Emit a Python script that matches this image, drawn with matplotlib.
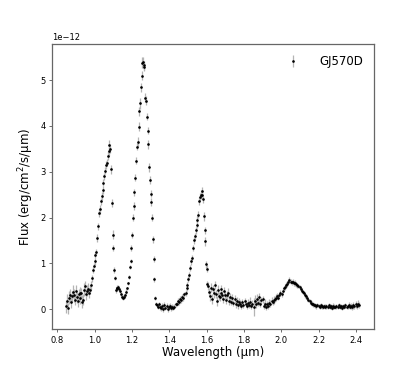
import matplotlib
matplotlib.use("Agg")
import matplotlib.pyplot as plt
import numpy as np

# wavelength (micron), flux (1e-12 erg/cm2/s/um), error (same units)
wave = [
    0.850, 0.855, 0.860, 0.865, 0.870, 0.875, 0.880, 0.885, 0.890, 0.895,
    0.900, 0.905, 0.910, 0.915, 0.920, 0.925, 0.930, 0.935, 0.940, 0.945,
    0.950, 0.955, 0.960, 0.965, 0.970, 0.975, 0.980, 0.985,
    0.990, 0.995, 1.000, 1.005, 1.010, 1.014, 1.020, 1.025, 1.031, 1.035,
    1.039, 1.043, 1.047, 1.052, 1.058, 1.062, 1.065, 1.070, 1.076, 1.080, 1.083,
    1.088, 1.092, 1.097, 1.100, 1.104, 1.108,
    1.113, 1.118, 1.123, 1.128, 1.133, 1.138, 1.143, 1.148, 1.153, 1.158, 1.163, 1.168,
    1.174, 1.179, 1.184, 1.189, 1.193, 1.198, 1.202, 1.206, 1.210, 1.214,
    1.218, 1.222, 1.226, 1.231, 1.236, 1.240, 1.245, 1.249, 1.253, 1.257,
    1.261, 1.264, 1.267,
    1.272, 1.277, 1.281, 1.285, 1.289, 1.293, 1.297, 1.301, 1.305, 1.309,
    1.313, 1.317, 1.321, 1.325, 1.329, 1.334, 1.339,
    1.344, 1.350, 1.356, 1.362, 1.368, 1.374, 1.380, 1.386, 1.392, 1.398,
    1.404, 1.410, 1.416, 1.422,
    1.428, 1.434, 1.440, 1.446, 1.452, 1.458, 1.464, 1.470, 1.476, 1.482,
    1.488, 1.493, 1.498, 1.503, 1.508, 1.513, 1.518, 1.523, 1.528, 1.533,
    1.538, 1.542, 1.547, 1.551, 1.556, 1.560, 1.565, 1.569, 1.574,
    1.578, 1.582, 1.586, 1.590, 1.593, 1.597, 1.601, 1.605,
    1.610, 1.615, 1.620, 1.625, 1.630, 1.635, 1.640, 1.645, 1.650, 1.655,
    1.660, 1.665, 1.670, 1.675, 1.680, 1.685, 1.690, 1.695, 1.700, 1.705,
    1.710, 1.715, 1.720,
    1.726, 1.732, 1.738, 1.744, 1.750, 1.756, 1.762, 1.768, 1.774, 1.780,
    1.786, 1.792, 1.798, 1.804, 1.810, 1.816, 1.822, 1.828, 1.834, 1.840,
    1.846, 1.852, 1.858, 1.864, 1.870, 1.876, 1.882, 1.888, 1.894, 1.900,
    1.906, 1.912, 1.918, 1.924, 1.930, 1.936, 1.942, 1.948, 1.954, 1.960,
    1.966, 1.972, 1.978,
    1.984, 1.990, 1.996, 2.002, 2.008, 2.014, 2.020, 2.026, 2.032, 2.038,
    2.044, 2.050, 2.056, 2.062, 2.068, 2.074, 2.080, 2.086, 2.092, 2.098,
    2.104, 2.110, 2.116, 2.122, 2.128, 2.134, 2.140, 2.146, 2.152, 2.158,
    2.164, 2.170, 2.176,
    2.182, 2.188, 2.194, 2.200, 2.206, 2.212, 2.218, 2.224, 2.230, 2.236,
    2.242, 2.248, 2.254, 2.260, 2.266, 2.272, 2.278, 2.284, 2.290, 2.296,
    2.302, 2.308, 2.314, 2.320, 2.326, 2.332, 2.338, 2.344, 2.350, 2.356,
    2.362, 2.368, 2.374, 2.380, 2.386, 2.392, 2.398, 2.404, 2.410, 2.416,
]

flux = [
    0.06, 0.18, 0.02, 0.25, 0.30, 0.15, 0.28, 0.38, 0.30, 0.20,
    0.40, 0.26, 0.18, 0.32, 0.36, 0.24, 0.34, 0.16, 0.20, 0.42,
    0.50, 0.32, 0.40, 0.44, 0.35, 0.42, 0.52, 0.67,
    0.85, 0.95, 1.04, 1.18, 1.25, 1.55, 1.81, 2.10, 2.18, 2.35,
    2.47, 2.60, 2.76, 2.90, 3.02, 3.15, 3.20, 3.35, 3.45, 3.58, 3.50,
    3.05, 2.32, 1.62, 1.33, 0.85, 0.68,
    0.42, 0.47, 0.45, 0.48, 0.44, 0.40, 0.32, 0.27, 0.25, 0.27, 0.30, 0.38,
    0.45, 0.56, 0.70, 0.92, 1.05, 1.33, 1.62, 2.00, 2.25, 2.55,
    2.87, 3.24, 3.55, 3.65, 3.98, 4.32, 4.50, 4.85, 5.10, 5.38,
    5.40, 5.33, 5.30,
    4.62, 4.55, 4.20, 3.90, 3.60, 3.10, 2.82, 2.52, 2.34, 2.00,
    1.52, 1.09, 0.65, 0.24, 0.12, 0.08, 0.05,
    0.10, 0.04, 0.02, 0.07, 0.00, 0.08, 0.03, 0.06, 0.00, 0.05,
    0.07, 0.02, 0.04, 0.03,
    0.05, 0.10, 0.12, 0.18, 0.15, 0.22, 0.20, 0.27, 0.25, 0.32,
    0.35, 0.45, 0.52, 0.65, 0.75, 0.90, 1.04, 1.12, 1.33, 1.50,
    1.59, 1.72, 1.84, 1.95, 2.06, 2.36, 2.45, 2.50, 2.57,
    2.50, 2.40, 2.03, 1.72, 1.48, 0.98, 0.88, 0.55,
    0.50, 0.38, 0.28, 0.47, 0.22, 0.44, 0.36, 0.52, 0.33, 0.18,
    0.42, 0.28, 0.26, 0.44, 0.35, 0.30, 0.22, 0.40, 0.30, 0.20,
    0.30, 0.36, 0.18,
    0.26, 0.16, 0.24, 0.13, 0.22, 0.10, 0.18, 0.08, 0.16, 0.12,
    0.07, 0.15, 0.09, 0.17, 0.12, 0.07, 0.14, 0.09, 0.16, 0.06,
    0.12, 0.04, 0.18, 0.10, 0.23, 0.14, 0.26, 0.12, 0.19, 0.21,
    0.07, 0.12, 0.04, 0.10, 0.07, 0.14, 0.12, 0.18, 0.15, 0.20,
    0.22, 0.25, 0.28,
    0.25, 0.30, 0.35, 0.32, 0.40, 0.45, 0.48, 0.52, 0.55, 0.60,
    0.63, 0.60, 0.58, 0.60, 0.56, 0.57, 0.54, 0.52, 0.50, 0.48,
    0.44, 0.40, 0.37, 0.35, 0.30, 0.28, 0.24, 0.20, 0.17, 0.14,
    0.12, 0.10, 0.09,
    0.08, 0.06, 0.09, 0.07, 0.05, 0.08, 0.06, 0.04, 0.07, 0.05,
    0.06, 0.04, 0.08, 0.05, 0.06, 0.03, 0.07, 0.05, 0.04, 0.06,
    0.05, 0.08, 0.04, 0.06, 0.03, 0.07, 0.05, 0.08, 0.04, 0.06,
    0.09, 0.05, 0.07, 0.04, 0.08, 0.06, 0.10, 0.07, 0.12, 0.09,
]

err = [
    0.14, 0.14, 0.12, 0.14, 0.14, 0.12, 0.12, 0.14, 0.14, 0.12,
    0.12, 0.12, 0.14, 0.12, 0.12, 0.12, 0.12, 0.14, 0.12, 0.14,
    0.12, 0.12, 0.12, 0.12, 0.10, 0.10, 0.10, 0.08,
    0.06, 0.06, 0.07, 0.07, 0.07, 0.08, 0.08, 0.08, 0.10, 0.08,
    0.08, 0.08, 0.08, 0.08, 0.08, 0.08, 0.08, 0.10, 0.10, 0.12, 0.10,
    0.10, 0.08, 0.10, 0.07, 0.06, 0.05,
    0.06, 0.05, 0.05, 0.05, 0.05, 0.05, 0.05, 0.05, 0.05, 0.05, 0.05, 0.05,
    0.04, 0.04, 0.05, 0.05, 0.05, 0.06, 0.07, 0.08, 0.08, 0.08,
    0.08, 0.08, 0.08, 0.10, 0.10, 0.10, 0.12, 0.10, 0.10, 0.12,
    0.10, 0.10, 0.10,
    0.10, 0.10, 0.08, 0.08, 0.10, 0.10, 0.08, 0.08, 0.08, 0.08,
    0.07, 0.06, 0.05, 0.04, 0.04, 0.04, 0.04,
    0.06, 0.07, 0.06, 0.07, 0.07, 0.07, 0.06, 0.07, 0.06, 0.06,
    0.06, 0.06, 0.06, 0.06,
    0.05, 0.06, 0.06, 0.06, 0.07, 0.06, 0.07, 0.06, 0.07, 0.06,
    0.06, 0.06, 0.06, 0.07, 0.07, 0.07, 0.07, 0.07, 0.07, 0.08,
    0.08, 0.08, 0.08, 0.08, 0.08, 0.09, 0.09, 0.10, 0.10,
    0.08, 0.08, 0.10, 0.08, 0.10, 0.08, 0.08, 0.06,
    0.09, 0.09, 0.11, 0.09, 0.11, 0.09, 0.11, 0.09, 0.09, 0.11,
    0.11, 0.09, 0.09, 0.09, 0.09, 0.09, 0.09, 0.09, 0.09, 0.09,
    0.09, 0.09, 0.09,
    0.08, 0.07, 0.08, 0.07, 0.08, 0.07, 0.08, 0.07, 0.08, 0.07,
    0.07, 0.08, 0.07, 0.08, 0.07, 0.07, 0.08, 0.07, 0.10, 0.07,
    0.08, 0.20, 0.12, 0.08, 0.10, 0.08, 0.10, 0.07, 0.08, 0.08,
    0.08, 0.10, 0.07, 0.08, 0.07, 0.08, 0.07, 0.08, 0.07, 0.08,
    0.07, 0.07, 0.07,
    0.06, 0.06, 0.06, 0.06, 0.06, 0.06, 0.06, 0.06, 0.06, 0.06,
    0.06, 0.06, 0.06, 0.06, 0.06, 0.06, 0.05, 0.05, 0.05, 0.05,
    0.05, 0.05, 0.05, 0.05, 0.05, 0.05, 0.05, 0.05, 0.05, 0.05,
    0.05, 0.05, 0.05,
    0.05, 0.05, 0.05, 0.05, 0.05, 0.05, 0.05, 0.05, 0.05, 0.05,
    0.05, 0.05, 0.06, 0.05, 0.05, 0.05, 0.06, 0.05, 0.05, 0.05,
    0.06, 0.05, 0.05, 0.06, 0.05, 0.05, 0.06, 0.05, 0.05, 0.06,
    0.06, 0.06, 0.06, 0.06, 0.07, 0.06, 0.07, 0.07, 0.08, 0.07,
]

scale = 1e-12
x = np.array(wave)
y = np.array(flux) * scale
yerr = np.array(err) * scale

fig = plt.figure(figsize=(4.15, 3.7), dpi=100)
ax = fig.add_subplot(1, 1, 1)

ax.errorbar(x, y, yerr=yerr, fmt='o', ms=0.9, color='black', ecolor='#b4b4b4',
            elinewidth=0.9, capsize=0, label='GJ570D')

ax.set_xlabel('Wavelength (\u00b5m)', fontsize=8.5, labelpad=1)
ax.set_ylabel('Flux (erg/cm$^2$/s/\u00b5m)', fontsize=8.5, labelpad=3)
ax.tick_params(labelsize=6, length=2.5, width=0.6, pad=2, color='#555555')
ax.yaxis.get_offset_text().set_fontsize(6)
for s in ax.spines.values():
    s.set_color('#666666')
    s.set_linewidth(0.9)

ax.legend(loc='upper right', frameon=False, fontsize=8.5, handletextpad=1.2)

plt.savefig('out.png', dpi=100)
plt.close()
